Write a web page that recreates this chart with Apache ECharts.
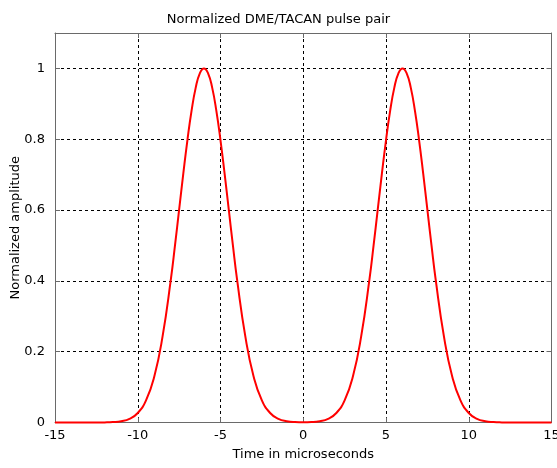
<!DOCTYPE html>
<html><head><meta charset="utf-8">
<script src="https://cdn.jsdelivr.net/npm/echarts@6/dist/echarts.min.js"></script>
<style>html,body{margin:0;padding:0;background:#fff}#c{width:557px;height:468px}</style>
</head><body><div id="c"></div>
<script>
const timeUs = [-15,-14.5,-14,-13.5,-13,-12.5,-12,-11.5,-11,-10.5,-10,-9.5,-9,-8.5,-8,
  -7.75,-7.5,-7.25,-7,-6.75,-6.5,-6.25,-6,-5.75,-5.5,-5.25,-5,-4.75,-4.5,-4.25,
  -4,-3.5,-3,-2.5,-2,-1.5,-1,-0.5,0,0.5,1,1.5,2,2.5,3,3.5,4,
  4.25,4.5,4.75,5,5.25,5.5,5.75,6,6.25,6.5,6.75,7,7.25,7.5,7.75,
  8,8.5,9,9.5,10,10.5,11,11.5,12,12.5,13,13.5,14,14.5,15];
const amplitude = [0,0,0,0,0,0.0001,0.0003,0.0011,0.0035,0.0102,0.0268,0.0625,0.130,0.243,0.404,
  0.500,0.601,0.702,0.797,0.880,0.945,0.986,1,0.986,0.945,0.880,0.797,0.702,0.601,0.500,
  0.404,0.243,0.130,0.0625,0.0268,0.0102,0.0035,0.0011,0.0006,0.0011,0.0035,0.0102,0.0268,0.0625,0.130,0.243,0.404,
  0.500,0.601,0.702,0.797,0.880,0.945,0.986,1,0.986,0.945,0.880,0.797,0.702,0.601,0.500,
  0.404,0.243,0.130,0.0625,0.0268,0.0102,0.0035,0.0011,0.0003,0.0001,0,0,0,0,0];
const titleText = 'Normalized DME/TACAN pulse pair';
const xName = 'Time in microseconds';
const yName = 'Normalized amplitude';

const FONT = 'DejaVu Sans';
const AX = '#6a6a6a';
const chart = echarts.init(document.getElementById('c'), null, {renderer: 'canvas'});
const common = {
  axisLine: {show: true, onZero: false, lineStyle: {color: AX, width: 1}},
  axisTick: {show: true, inside: true, length: 5, lineStyle: {color: AX}}
};
const grid = {type: [3, 3], color: '#000', width: 1};
chart.setOption({
  animation: false,
  backgroundColor: '#fff',
  title: {text: titleText, left: 'center', top: 8, textStyle: {fontFamily: FONT, fontSize: 13, fontWeight: 'normal', color: '#000'}},
  grid: {left: 55, right: 5.5, top: 33, bottom: 45.5, containLabel: false, outerBoundsMode: 'none'},
  xAxis: [
    Object.assign({}, common, {
      type: 'value', min: -15, max: 15, interval: 5, position: 'bottom',
      name: xName, nameLocation: 'middle', nameGap: 26, nameMoveOverlap: false,
      nameTextStyle: {fontFamily: FONT, fontSize: 13, color: '#000'},
      axisLabel: {fontFamily: FONT, fontSize: 13, color: '#000', margin: 7},
      splitLine: {show: true, showMinLine: false, showMaxLine: false, lineStyle: grid}
    }),
    Object.assign({}, common, {
      type: 'value', min: -15, max: 15, interval: 5, position: 'top',
      axisLabel: {show: false}, splitLine: {show: false}
    })
  ],
  yAxis: [
    Object.assign({}, common, {
      type: 'value', min: 0, max: 1.1, interval: 0.2, position: 'left',
      name: yName, nameLocation: 'middle', nameGap: 33, nameMoveOverlap: false,
      nameTextStyle: {fontFamily: FONT, fontSize: 13, color: '#000'},
      axisLabel: {fontFamily: FONT, fontSize: 13, color: '#000', margin: 10, showMaxLabel: false,
        formatter: v => (v > 1.05 ? '' : String(+v.toFixed(1)))},
      splitLine: {show: true, showMinLine: false, showMaxLine: false, lineStyle: grid}
    }),
    Object.assign({}, common, {
      type: 'value', min: 0, max: 1.1, interval: 0.2, position: 'right',
      axisLabel: {show: false}, splitLine: {show: false}
    })
  ],
  series: [{
    type: 'line',
    data: timeUs.map((t, i) => [t, amplitude[i]]),
    smooth: true,
    showSymbol: false,
    clip: false,
    lineStyle: {color: '#ff0000', width: 2},
    z: 5
  }]
});
</script>
</body></html>
